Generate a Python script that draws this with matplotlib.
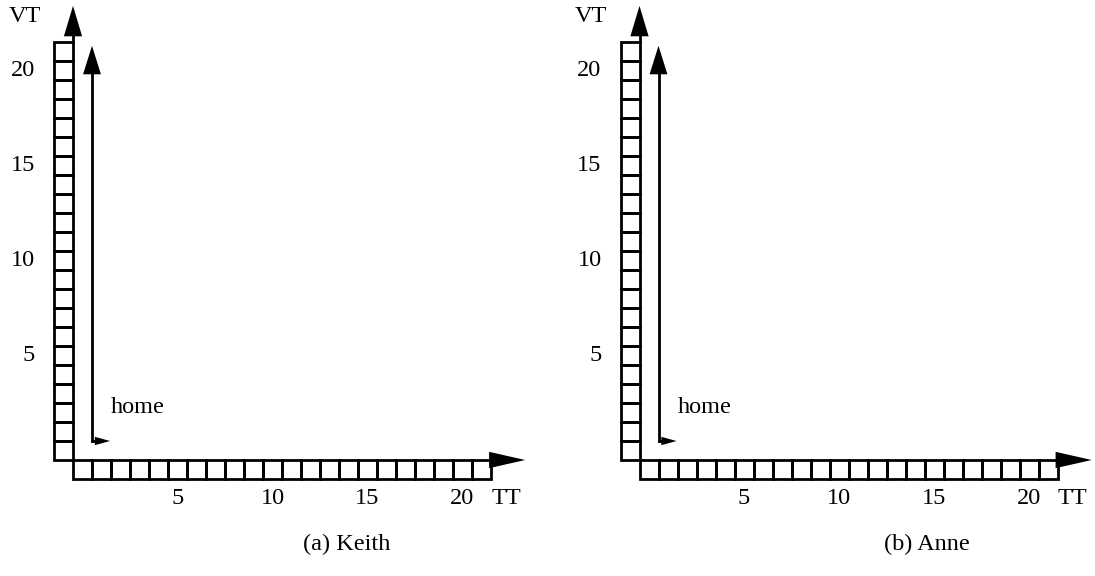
import matplotlib
matplotlib.use('Agg')
import matplotlib.pyplot as plt
from matplotlib.patches import Rectangle

plt.rcParams['font.family'] = ['Liberation Serif', 'DejaVu Serif']

# data
n_cells = 22
tick_values = [5, 10, 15, 20]
tick_labels = ['5', '10', '15', '20']
x_name = 'TT'
y_name = 'VT'
home_label = 'home'
home_pos = (1, 1)
captions = ['(a) Keith', '(b) Anne']
caption_x = [14.4, 15.1]

W, H = 1095, 576
U = 19.0  # pixels per cell
origins = [(73.0, 460.0), (639.5, 460.0)]  # axis corner, pixels from top-left

fig = plt.figure(figsize=(W / 100, H / 100), dpi=100)
LW = 2.0
FS = 17.5


def head(ax, tip, base, half, vertical):
    if vertical:
        xs = [tip[0] - half, tip[0] + half, tip[0]]
        ys = [base, base, tip[1]]
    else:
        xs = [base, base, tip[0]]
        ys = [tip[1] - half, tip[1] + half, tip[1]]
    ax.fill(xs, ys, color='black', lw=0, clip_on=False)


for k, (ox, oy) in enumerate(origins):
    x0, x1, y0, y1 = -3.6, 24.0, -6.0, 24.2
    left = (ox + x0 * U) / W
    bottom = (H - (oy - y0 * U)) / H
    ax = fig.add_axes([left, bottom, (x1 - x0) * U / W, (y1 - y0) * U / H])
    ax.set_xlim(x0, x1)
    ax.set_ylim(y0, y1)
    ax.axis('off')

    for i in range(n_cells):
        ax.add_patch(Rectangle((-1, i), 1, 1, fill=False, lw=LW, ec='black', clip_on=False))
        ax.add_patch(Rectangle((i, -1), 1, 1, fill=False, lw=LW, ec='black', clip_on=False))

    # axes arrows
    ax.plot([0, 0], [n_cells, 22.4], color='black', lw=LW, clip_on=False)
    head(ax, (0, 23.9), 22.3, 0.48, True)
    ax.plot([n_cells, 22.1], [0, 0], color='black', lw=LW, clip_on=False)
    head(ax, (23.8, 0), 21.9, 0.43, False)

    # home arrows
    hx, hy = home_pos
    ax.plot([hx, hx], [hy, 20.4], color='black', lw=LW, clip_on=False)
    head(ax, (hx, 21.8), 20.3, 0.47, True)
    ax.plot([hx, 1.3], [hy, hy], color='black', lw=LW, clip_on=False)
    head(ax, (1.95, hy), 1.15, 0.22, False)
    ax.text(2.0, 2.74, home_label, fontsize=FS, ha='left', va='center')

    for v, lab in zip(tick_values, tick_labels):
        ax.text(-2.0, v + 0.5, lab, fontsize=FS, ha='right', va='center')
        ax.text(v + 0.5, -2.0, lab, fontsize=FS, ha='center', va='center')
    ax.text(22.8, -2.0, x_name, fontsize=FS, ha='center', va='center')
    ax.text(-2.55, 23.35, y_name, fontsize=FS, ha='center', va='center')
    ax.text(caption_x[k], -4.47, captions[k], fontsize=FS, ha='center', va='center')

fig.savefig('out.png', dpi=100)
